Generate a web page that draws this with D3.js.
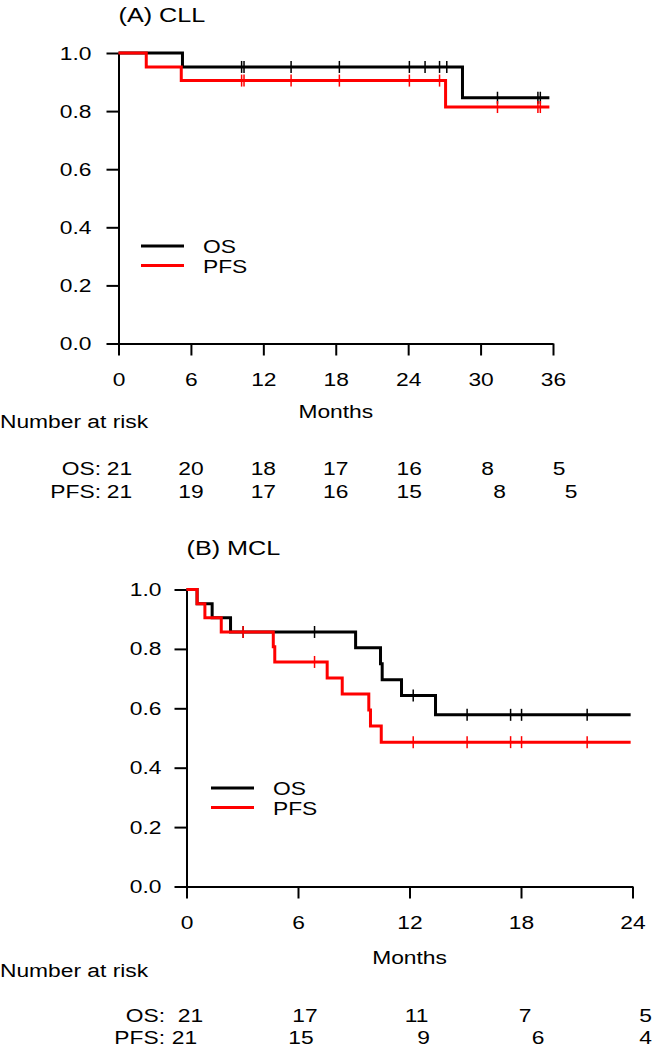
<!DOCTYPE html>
<html>
<head>
<meta charset="utf-8">
<script src="https://cdn.jsdelivr.net/npm/d3@7"></script>
<style>
  body { margin: 0; background: #fff; }
  svg text { font-family: "Liberation Sans", Arial, sans-serif; fill: #000; }
</style>
</head>
<body>
<script>
// ---- data ----
// (A) CLL: step times (months) and survival after each step
var cllOsTimes = [0, 5.3, 28.5];
var cllOsSurv = [1, 0.952, 0.846];
var cllOsCensor = [10.2, 10.4, 14.3, 18.3, 24.1, 25.4, 26.6, 27.2, 31.4, 34.75, 34.95];
var cllPfsTimes = [0, 2.3, 5.2, 27.1];
var cllPfsSurv = [1, 0.952, 0.905, 0.814];
var cllPfsCensor = [10.2, 10.4, 14.3, 18.3, 24.1, 26.6, 31.4, 34.75, 34.95];
var cllEnd = 35.7;
var cllTicks = [0, 6, 12, 18, 24, 30, 36];
var cllRiskOs = [21, 20, 18, 17, 16, 8, 5];
var cllRiskPfs = [21, 19, 17, 16, 15, 8, 5];

// (B) MCL
var mclOsTimes = [0, 0.57, 1.38, 2.37, 9.1, 10.44, 10.53, 11.57, 13.4];
var mclOsSurv = [1, 0.952, 0.905, 0.857, 0.804, 0.750, 0.696, 0.643, 0.578];
var mclOsCensor = [3.05, 6.89, 12.2, 15.1, 17.44, 18.03, 21.56];
var mclPfsTimes = [0, 0.57, 0.99, 1.87, 4.67, 4.75, 7.57, 8.38, 9.81, 9.9, 10.48];
var mclPfsSurv = [1, 0.952, 0.905, 0.857, 0.807, 0.756, 0.702, 0.648, 0.594, 0.540, 0.486];
var mclPfsCensor = [3.05, 6.89, 12.2, 15.1, 17.44, 18.03, 21.56];
var mclEnd = 23.9;
var mclTicks = [0, 6, 12, 18, 24];
var mclRiskOs = [21, 17, 11, 7, 5];
var mclRiskPfs = [21, 15, 9, 6, 4];

var yTicks = [0, 0.2, 0.4, 0.6, 0.8, 1.0];

// text in the reference is a bit stretched sideways
var SX = 1.2;

var svg = d3.select('body').append('svg')
  .attr('width', 660)
  .attr('height', 1050);

function label(x, y, str, anchor, size) {
  return svg.append('text')
    .attr('transform', 'translate(' + x + ',' + y + ') scale(' + SX + ',1)')
    .attr('text-anchor', anchor || 'start')
    .style('font-size', (size || 19) + 'px')
    .text(str);
}

function drawPanel(p) {
  var x = d3.scaleLinear().domain([0, p.xMax]).range(p.xRange);
  var y = d3.scaleLinear().domain([0, 1]).range(p.yRange);

  // y axis
  var gy = svg.append('g')
    .attr('transform', 'translate(' + p.xRange[0] + ',0)')
    .call(d3.axisLeft(y).tickValues(yTicks).tickFormat(d3.format('.1f')).tickSize(12).tickSizeOuter(0));
  gy.selectAll('text')
    .attr('x', -p.yLabelGap / SX)
    .attr('transform', 'scale(' + SX + ',1)')
    .style('font-size', '19px');

  // x axis
  var gx = svg.append('g')
    .attr('transform', 'translate(0,' + p.yRange[0] + ')')
    .call(d3.axisBottom(x).tickValues(p.ticks).tickSize(12).tickSizeOuter(0).tickPadding(17));
  gx.selectAll('text')
    .attr('transform', 'scale(' + SX + ',1)')
    .style('font-size', '19px');

  svg.selectAll('.domain, .tick line')
    .attr('stroke', '#000')
    .attr('stroke-width', 2);
  svg.selectAll('.tick text').style('font-family', '"Liberation Sans", Arial, sans-serif');

  // survival curves
  var line = d3.line()
    .x(function(d) { return x(d[0]); })
    .y(function(d) { return y(d[1]); })
    .curve(d3.curveStepAfter);

  p.series.forEach(function(s) {
    var pts = s.times.map(function(t, i) { return [t, s.surv[i]]; });
    pts.push([p.end, s.surv[s.surv.length - 1]]);
    svg.append('path')
      .datum(pts)
      .attr('d', line)
      .attr('fill', 'none')
      .attr('stroke', s.color)
      .attr('stroke-width', 3);

    // censor marks sit on the curve level at that time
    svg.append('g').selectAll('line')
      .data(s.censor)
      .enter()
      .append('line')
      .attr('x1', function(d) { return x(d); })
      .attr('x2', function(d) { return x(d); })
      .attr('y1', function(d) {
        var i = d3.bisectRight(s.times, d) - 1;
        return y(s.surv[i]) - 6;
      })
      .attr('y2', function(d) {
        var i = d3.bisectRight(s.times, d) - 1;
        return y(s.surv[i]) + 6;
      })
      .attr('stroke', s.color)
      .attr('stroke-width', 1.5);
  });

  // legend
  p.series.forEach(function(s, i) {
    var ly = p.legend[1] + i * 19.5;
    svg.append('line')
      .attr('x1', p.legend[0]).attr('x2', p.legend[0] + 43)
      .attr('y1', ly).attr('y2', ly)
      .attr('stroke', s.color)
      .attr('stroke-width', 3);
    label(p.legend[0] + 62, ly + 7, s.name, 'start', 19);
  });

  // titles and captions
  label(p.xRange[0], p.titleY, p.title, 'start', 21);
  label(x(p.xMax / 2), p.monthsY, 'Months', 'middle', 19);
  label(0, p.riskY, 'Number at risk', 'start', 19);

  p.series.forEach(function(s, i) {
    var ry = p.rowY[i];
    label(p.prefixX, ry, s.name + ':', 'end', 19);
    s.risk.forEach(function(v, j) {
      label(x(p.ticks[j]) + s.riskShift[j], ry, v, 'middle', 19);
    });
  });
}

drawPanel({
  title: '(A) CLL',
  xMax: 36,
  end: cllEnd,
  ticks: cllTicks,
  xRange: [118.5, 553],
  yRange: [343.5, 53],
  yLabelGap: 27,
  titleY: 22,
  monthsY: 418,
  riskY: 428,
  rowY: [475, 498],
  prefixX: 101,
  legend: [141, 246],
  series: [
    {name: 'OS', color: '#000', times: cllOsTimes, surv: cllOsSurv, censor: cllOsCensor,
     risk: cllRiskOs, riskShift: [1, 0, 0, 0, 1, 7, 6]},
    {name: 'PFS', color: '#f00', times: cllPfsTimes, surv: cllPfsSurv, censor: cllPfsCensor,
     risk: cllRiskPfs, riskShift: [1, 0, 0, 0, 1, 19, 18]}
  ]
});

drawPanel({
  title: '(B) MCL',
  xMax: 24,
  end: mclEnd,
  ticks: mclTicks,
  xRange: [186.5, 632.5],
  yRange: [886.5, 589.5],
  yLabelGap: 25,
  titleY: 555,
  monthsY: 964,
  riskY: 977,
  rowY: [1022, 1044],
  prefixX: 165,
  legend: [211, 788],
  series: [
    {name: 'OS', color: '#000', times: mclOsTimes, surv: mclOsSurv, censor: mclOsCensor,
     risk: mclRiskOs, riskShift: [4, 7, 7, 4, 13]},
    {name: 'PFS', color: '#f00', times: mclPfsTimes, surv: mclPfsSurv, censor: mclPfsCensor,
     risk: mclRiskPfs, riskShift: [-2, 3, 14, 17, 13]}
  ]
});
</script>
</body>
</html>
